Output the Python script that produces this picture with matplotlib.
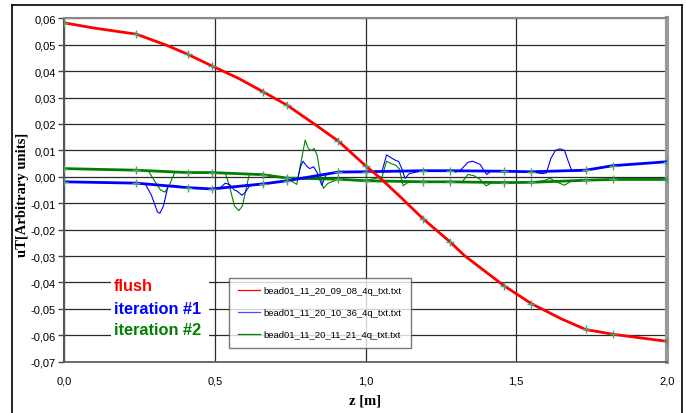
import numpy as np
import matplotlib
matplotlib.use("Agg")
import matplotlib.pyplot as plt
from matplotlib.patches import Rectangle
from matplotlib.lines import Line2D
from matplotlib.ticker import FuncFormatter

# positions along the bead pull where the smoothed curves carry a "+" marker
Z_MARK = [0.0, 0.24, 0.41, 0.49, 0.66, 0.74, 0.91, 1.0, 1.19, 1.28,
          1.46, 1.55, 1.73, 1.82, 2.0]

ITER1_SMOOTH = [-0.0019, -0.0024, -0.0041, -0.0046, -0.0027, -0.0015, 0.0018,
                0.0019, 0.0023, 0.0023, 0.0021, 0.0019, 0.0025, 0.0042, 0.0057]
ITER2_SMOOTH = [0.0031, 0.0025, 0.0016, 0.0016, 0.0008, -0.0005, -0.0009,
                -0.0015, -0.0019, -0.0019, -0.0022, -0.0021, -0.0013, -0.001, -0.001]

# flush curve, read a bit denser than the markers
Z_FLUSH = [0.0, 0.1, 0.24, 0.34, 0.41, 0.49, 0.58, 0.66, 0.74, 0.83, 0.91,
           1.0, 1.05, 1.11, 1.19, 1.28, 1.33, 1.46, 1.55, 1.65, 1.73, 1.82,
           1.9, 2.0]
FLUSH = [0.0583, 0.0563, 0.054, 0.0498, 0.0464, 0.042, 0.0372, 0.0322,
         0.0271, 0.0200, 0.0135, 0.0042, -0.0006, -0.007, -0.0158, -0.0246,
         -0.030, -0.0413, -0.048, -0.0538, -0.0578, -0.0596, -0.0608, -0.0623]
FLUSH_MARKED = [0, 2, 4, 5, 7, 8, 10, 11, 14, 15, 17, 18, 20, 21, 23]

# raw traces (thin lines)
Z_ITER1 = [0.0, 0.24, 0.27, 0.29, 0.31, 0.318, 0.33, 0.345, 0.36, 0.41, 0.49,
           0.52, 0.535, 0.55, 0.565, 0.575, 0.59, 0.60, 0.615, 0.66, 0.74,
           0.775, 0.785, 0.793, 0.805, 0.815, 0.828, 0.84, 0.855, 0.87, 0.91,
           1.0, 1.055, 1.07, 1.085, 1.10, 1.11, 1.12, 1.131, 1.145, 1.19, 1.28,
           1.30, 1.315, 1.34, 1.355, 1.38, 1.395, 1.402, 1.415, 1.46, 1.55,
           1.585, 1.60, 1.615, 1.63, 1.645, 1.66, 1.672, 1.685, 1.73, 1.82, 2.0]
ITER1_RAW = [-0.0019, -0.0024, -0.0028, -0.0070, -0.0133, -0.0138, -0.0110,
             -0.0035, -0.0032, -0.0041, -0.0046, -0.0040, -0.0024, -0.0030,
             -0.0050, -0.0055, -0.0070, -0.0060, -0.0035, -0.0027, -0.0015,
             -0.0008, 0.0040, 0.0059, 0.0040, 0.0031, 0.0038, 0.0015, -0.0032,
             0.0010, 0.0018, 0.0019, 0.0022, 0.0083, 0.0072, 0.0062, 0.0058,
             0.0032, -0.0006, 0.0012, 0.0023, 0.0023, 0.0018, 0.0025, 0.0055,
             0.0059, 0.0047, 0.0020, 0.0009, 0.0020, 0.0021, 0.0019, 0.0012,
             0.0015, 0.0070, 0.0100, 0.0106, 0.0100, 0.0060, 0.0020, 0.0025,
             0.0042, 0.0057]

Z_ITER2 = [0.0, 0.24, 0.28, 0.30, 0.32, 0.335, 0.35, 0.368, 0.41, 0.49, 0.535,
           0.55, 0.565, 0.58, 0.592, 0.605, 0.615, 0.66, 0.74, 0.772, 0.785,
           0.80, 0.81, 0.82, 0.83, 0.84, 0.85, 0.86, 0.875, 0.91, 1.0, 1.055,
           1.07, 1.085, 1.10, 1.112, 1.125, 1.14, 1.19, 1.28, 1.32, 1.34, 1.36,
           1.38, 1.40, 1.42, 1.46, 1.55, 1.59, 1.612, 1.635, 1.66, 1.68, 1.73,
           1.82, 2.0]
ITER2_RAW = [0.0031, 0.0025, 0.0022, -0.0015, -0.0050, -0.0058, -0.0030,
             0.0018, 0.0016, 0.0016, 0.0015, -0.0040, -0.0110, -0.0128,
             -0.0110, -0.0040, 0.0012, 0.0008, -0.0005, -0.0029, 0.0050, 0.0139,
             0.0107, 0.0100, 0.0107, 0.0080, 0.0010, -0.0044, -0.0025, -0.0009,
             -0.0015, 0.0000, 0.0059, 0.0050, 0.0044, 0.0030, -0.0034, -0.0022,
             -0.0019, -0.0019, -0.0020, 0.0009, 0.0004, -0.0010, -0.0034,
             -0.0022, -0.0022, -0.0021, -0.0015, -0.0006, -0.0020, -0.0032,
             -0.0018, -0.0013, -0.001, -0.001]

FILES = ["bead01_11_20_09_08_4q_txt.txt",
         "bead01_11_20_10_36_4q_txt.txt",
         "bead01_11_20_11_21_4q_txt.txt"]
NAMES = ["flush", "iteration #1", "iteration #2"]

RED = "#ff0000"
BLUE = "#0000ff"
GREEN = "#008000"
MARK = "#4f9f72"


def comma_fmt(decimals):
    return FuncFormatter(lambda v, pos: f"{v:.{decimals}f}".replace(".", ","))


def main():
    plt.rcParams['font.family'] = ['Liberation Sans', 'DejaVu Sans']
    fig = plt.figure(figsize=(6.86, 4.14), dpi=100)
    ax = fig.add_axes([64 / 686, 1 - 362.7 / 414, 603 / 686, 343.4 / 414])

    # outer black frame of the pasted chart
    for xs, ys in [([12 / 686, 12 / 686], [0, 1 - 5.5 / 414]),
                   ([682 / 686, 682 / 686], [0, 1 - 5.5 / 414]),
                   ([12 / 686, 682 / 686], [1 - 5.5 / 414, 1 - 5.5 / 414])]:
        fig.add_artist(Line2D(xs, ys, color="black", lw=1.2,
                              transform=fig.transFigure))

    # thin raw traces
    ax.plot(Z_ITER2, ITER2_RAW, color=GREEN, lw=0.8, zorder=3)
    ax.plot(Z_ITER1, ITER1_RAW, color=BLUE, lw=0.8, zorder=3)

    # thick smoothed traces with markers
    for vals, col in [(ITER2_SMOOTH, GREEN), (ITER1_SMOOTH, BLUE)]:
        ax.plot(Z_MARK, vals, color=col, lw=2.0, zorder=4)
        ax.plot(Z_MARK, vals, ls="none", marker="+", ms=6, mew=1.0,
                color=MARK, zorder=5)
    ax.plot(Z_FLUSH, FLUSH, color=RED, lw=2.0, zorder=4,
            marker="+", ms=6, mew=1.0, mec=MARK, markevery=FLUSH_MARKED)

    ax.set_xlim(0, 2.0)
    ax.set_ylim(-0.07, 0.06)
    ax.set_xticks(np.arange(0, 2.01, 0.5))
    ax.set_yticks(np.arange(-0.07, 0.0601, 0.01))
    ax.xaxis.set_major_formatter(comma_fmt(1))
    ax.yaxis.set_major_formatter(comma_fmt(2))
    ax.tick_params(axis="y", direction="out", length=4, width=1,
                   color="#444444", labelsize=8, pad=2)
    ax.tick_params(axis="x", length=0, labelsize=8, pad=10)
    ax.grid(True, color="#2a2a2a", lw=0.9)
    ax.set_axisbelow(True)

    ax.spines["left"].set_color("#555555")
    ax.spines["left"].set_linewidth(1.5)
    ax.spines["bottom"].set_color("#555555")
    ax.spines["bottom"].set_linewidth(1.2)
    ax.spines["top"].set_color("#888888")
    ax.spines["top"].set_linewidth(1.5)
    ax.spines["right"].set_color("#999999")
    ax.spines["right"].set_linewidth(3.0)

    ax.set_xlabel("z [m]", family="Liberation Serif", fontweight="bold",
                  fontsize=10.5, labelpad=6)
    ax.set_ylabel("uT[Arbitrary units]", family="Liberation Serif",
                  fontweight="bold", fontsize=10.5)
    ax.yaxis.set_label_coords(-0.058, 0.49)

    # white block with the coloured series names
    ax.add_patch(Rectangle((0.078, 0.052), 0.163, 0.218, transform=ax.transAxes,
                           facecolor="white", edgecolor="none", zorder=2))
    for name, col, yy in zip(NAMES, [RED, BLUE, GREEN], [0.221, 0.156, 0.094]):
        ax.text(0.083, yy, name, transform=ax.transAxes, color=col,
                fontsize=11.8, fontweight="bold", va="center", zorder=6)

    handles = [Line2D([], [], color=RED, lw=0.9),
               Line2D([], [], color="#4a4aff", lw=0.9),
               Line2D([], [], color=GREEN, lw=0.9)]
    leg = ax.legend(handles, FILES, loc="lower left",
                    bbox_to_anchor=(0.274, 0.04, 0.302, 0.225),
                    mode="expand", fontsize=6.8, frameon=True, fancybox=False,
                    handlelength=2.4, handletextpad=0.3, borderpad=0.9,
                    labelspacing=1.4, borderaxespad=0)
    leg.get_frame().set_edgecolor("#555555")
    leg.get_frame().set_linewidth(1.0)
    leg.set_zorder(7)

    fig.savefig("out.png", dpi=100)


if __name__ == "__main__":
    main()
